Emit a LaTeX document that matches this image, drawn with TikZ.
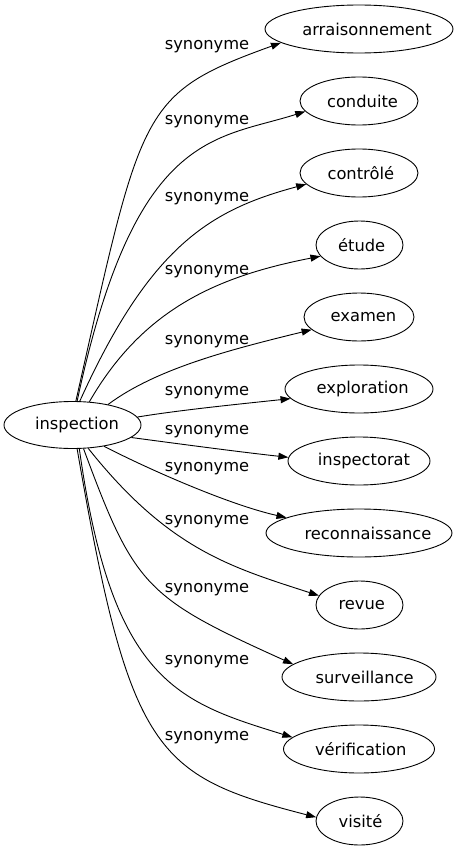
\documentclass[tikz,border=0pt]{standalone}
\usepackage{fontspec}
\setmainfont{DejaVu Sans}
\usetikzlibrary{arrows.meta,shapes.geometric}
\begin{document}
\begin{tikzpicture}[x=1pt,y=-1pt,
  every node/.style={font=\fontsize{16.3}{19}\selectfont},
  word/.style={draw, ellipse, line width=0.9pt, inner sep=0pt, minimum height=48pt},
  tshift/.style={execute at begin node={\hspace*{#1}}, execute at end node={\hspace*{-#1}}},
  lbl/.style={inner sep=0pt},
  rel/.style={line width=0.9pt, -{Triangle[length=10pt,width=7pt]}}]
\useasboundingbox (0,0) rectangle (459,851);
\node[word, minimum width=137pt, minimum height=47pt, tshift=4.5pt] (insp) at (72.5,425) {inspection};
\node[word, minimum width=188pt, tshift=8pt] (n1) at (359,29) {arraisonnement};
\node[word, minimum width=118pt, tshift=3.5pt] (n2) at (359,101) {conduite};
\node[word, minimum width=118pt, tshift=1.8pt] (n3) at (359,173) {contrôlé};
\node[word, minimum width=87pt, tshift=2.2pt] (n4) at (359.5,245) {étude};
\node[word, minimum width=110pt, tshift=4.5pt] (n5) at (359,317) {examen};
\node[word, minimum width=148pt, tshift=3.7pt] (n6) at (359,389) {exploration};
\node[word, minimum width=142pt, tshift=5pt] (n7) at (359,461) {inspectorat};
\node[word, minimum width=186pt, tshift=9pt] (n8) at (359,533) {reconnaissance};
\node[word, minimum width=87pt, tshift=2.3pt] (n9) at (359.5,605) {revue};
\node[word, minimum width=154pt, tshift=5.7pt] (n10) at (359,677) {surveillance};
\node[word, minimum width=151pt, tshift=1.7pt] (n11) at (359,749) {vérification};
\node[word, minimum width=87pt, tshift=1pt] (n12) at (359.5,821) {visité};
\node[lbl] (l1) at (207,47) {synonyme};
\node[lbl] (l2) at (207,122) {synonyme};
\node[lbl] (l3) at (207,199) {synonyme};
\node[lbl] (l4) at (207,272) {synonyme};
\node[lbl] (l5) at (207,342) {synonyme};
\node[lbl] (l6) at (207,393) {synonyme};
\node[lbl] (l7) at (207,432) {synonyme};
\node[lbl] (l8) at (207,469) {synonyme};
\node[lbl] (l9) at (207,522) {synonyme};
\node[lbl] (l10) at (207,590) {synonyme};
\node[lbl] (l11) at (207,662) {synonyme};
\node[lbl] (l12) at (207,738) {synonyme};
\draw[rel] (insp.82) .. controls (142,108) and (139,94) .. (n1.190);
\draw[rel] (insp.79) .. controls (135,130) and (215,140) .. (n2.191);
\draw[rel] (insp.73) .. controls (150,246) and (210,210) .. (n3.192);
\draw[rel] (insp.54) .. controls (144,307) and (220,276) .. (n4.196);
\draw[rel] (insp.30) .. controls (157,368) and (233,349) .. (n5.195);
\draw[rel] (insp.7) .. controls (180,410) and (240,404) .. (n6.188);
\draw[rel] (insp.-12) .. controls (180,444) and (240,452) .. (n7.177);
\draw[rel] (insp.-34) .. controls (150,470) and (230,505) .. (n8.168);
\draw[rel] (insp.-56) .. controls (168.6,549.4) and (230.5,567) .. (n9.167);
\draw[rel] (insp.-65) .. controls (134.6,586.6) and (145,597.4) .. (n10.169);
\draw[rel] (insp.-74) .. controls (112,682) and (178,702) .. (n11.170);
\draw[rel] (insp.-79) .. controls (129.7,753.4) and (155.3,775.9) .. (n12.175);
\end{tikzpicture}
\end{document}
